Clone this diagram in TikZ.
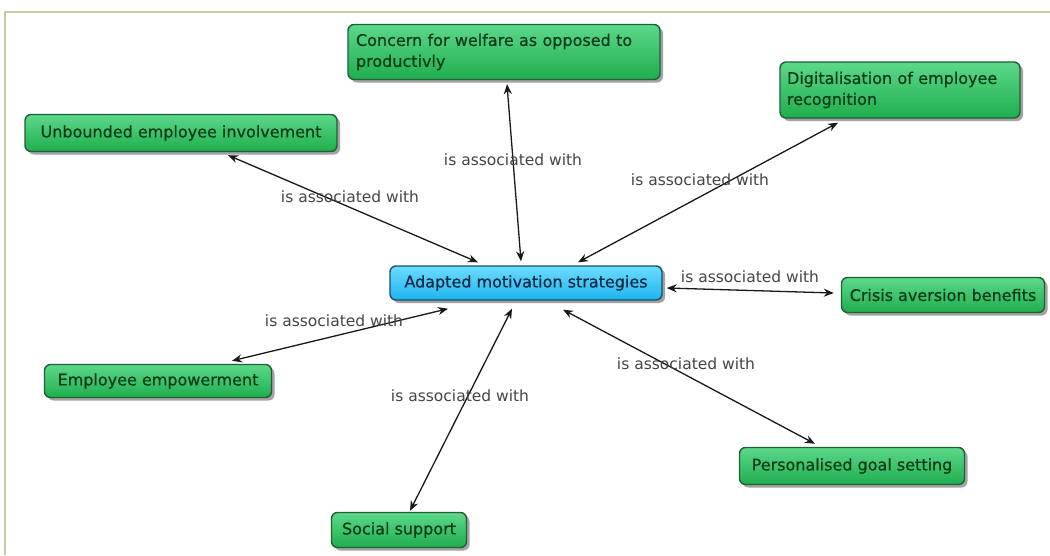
\documentclass[tikz,border=0pt]{standalone}
\usepackage{fontspec}
\setmainfont{DejaVu Sans}
\newfontfamily\conceptfont{DejaVu Sans}[FakeBold=0.6]
\usetikzlibrary{arrows.meta,shadows,calc}
\definecolor{gtop}{HTML}{5CD88A}
\definecolor{gbot}{HTML}{1FAE4E}
\definecolor{gborder}{HTML}{215F35}
\definecolor{gtext}{HTML}{0B3B19}
\definecolor{btop}{HTML}{6CDCFF}
\definecolor{bbot}{HTML}{1EB4EE}
\definecolor{bborder}{HTML}{17506E}
\definecolor{btext}{HTML}{0A2A45}
\definecolor{framecol}{HTML}{C9CDA6}
\definecolor{labelcol}{HTML}{454545}
\begin{document}
\begin{tikzpicture}[x=1pt,y=-1pt,
  concept/.style={draw=gborder, line width=1.4pt, rounded corners=6pt,
    top color=gtop, bottom color=gbot, text=gtext, inner sep=0pt,
    font=\conceptfont\fontsize{16}{21}\selectfont,
    drop shadow={shadow xshift=3pt, shadow yshift=-3pt, fill=black!65, opacity=0.55}},
  core/.style={concept, draw=bborder, top color=btop, bottom color=bbot, text=btext},
  link/.style={line width=1.3pt, black!90, {Stealth[length=10pt,width=8pt]}-{Stealth[length=10pt,width=8pt]}},
  lbl/.style={text=labelcol, font=\fontsize{15.5}{18}\selectfont, inner sep=0pt}]
\useasboundingbox (0,0) rectangle (1050,555);
\fill[white] (0,0) rectangle (1050,555);
\draw[framecol, line width=1.5pt] (5,555) -- (5,12) -- (1050,12);

\node[core, minimum width=272pt, minimum height=34pt] (ams) at (526,283) {Adapted motivation strategies};
\node[concept, minimum width=312pt, minimum height=55pt, text width=296pt, align=left] (cfw) at (504,52) {Concern for welfare as opposed to\\productivly};
\node[concept, minimum width=240pt, minimum height=56pt, text width=226pt, align=left] (dig) at (900,90) {Digitalisation of employee\\recognition};
\node[concept, minimum width=312pt, minimum height=37pt] (unb) at (181,133) {Unbounded employee involvement};
\node[concept, minimum width=203pt, minimum height=35pt] (cab) at (943,295) {Crisis aversion benefits};
\node[concept, minimum width=227pt, minimum height=33pt] (emp) at (158,381) {Employee empowerment};
\node[concept, minimum width=225pt, minimum height=37pt] (pgs) at (852,466) {Personalised goal setting};
\node[concept, minimum width=135pt, minimum height=35pt] (soc) at (399,530) {Social support};

\draw[link] ($(unb.south)+(47,3)$) -- ($(ams.north)+(-48,-3)$);
\draw[link] ($(cfw.south)+(3,4)$) -- ($(ams.north)+(-5,-4)$);
\draw[link] ($(dig.south)+(-62,4)$) -- ($(ams.north)+(52,-3)$);
\draw[link] ($(cab.west)+(-7,-2)$) -- ($(ams.east)+(4,5)$);
\draw[link] ($(emp.north)+(74,-3)$) -- ($(ams.south)+(-78,8)$);
\draw[link] ($(soc.north)+(11,-1)$) -- ($(ams.south)+(-14,8)$);
\draw[link] ($(pgs.north)+(-37,-3)$) -- ($(ams.south)+(37,9)$);

\node[lbl] (l1) at (350,197) {is associated with};
\node[lbl] (l2) at (513,160) {is associated with};
\node[lbl] (l3) at (700,180) {is associated with};
\node[lbl] (l4) at (750,277) {is associated with};
\node[lbl] (l5) at (334,321) {is associated with};
\node[lbl] (l6) at (460,396) {is associated with};
\node[lbl] (l7) at (686,364) {is associated with};
\end{tikzpicture}
\end{document}
